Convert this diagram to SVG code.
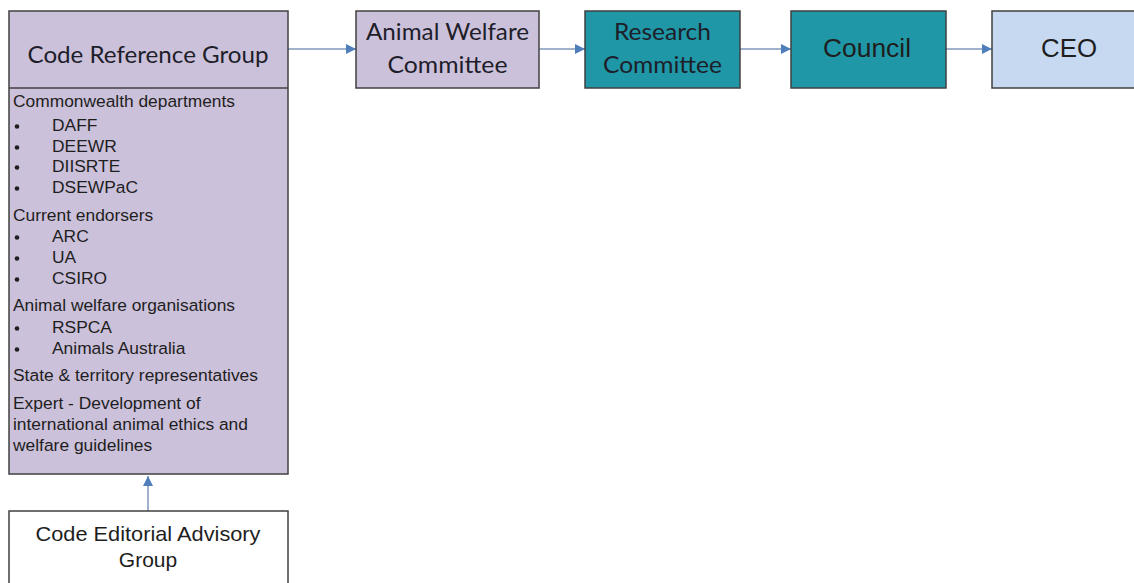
<svg xmlns="http://www.w3.org/2000/svg" width="1134" height="583" viewBox="0 0 1134 583">
<defs>
<style>
.box{stroke:#404040;stroke-width:1.5}
.lav{fill:#CCC1DA}
.teal{fill:#1F97A6}
.ceo{fill:#C6D9F1}
.white{fill:#FFFFFF}
.cal{font-family:Lato,"Open Sans",sans-serif;font-size:23px;fill:#1e1e2a;text-anchor:middle}
.ari{font-family:"Liberation Sans",Arial,sans-serif;fill:#1e1e1e}
.big{font-size:25px;text-anchor:middle}
.mid{font-size:21px;text-anchor:middle}
.lst{font-size:17.4px}
.bul{fill:#1e1e1e}
.conn{stroke:#8097BA;stroke-width:1.5;fill:none}
</style>
<marker id="ah" viewBox="0 0 10 10" refX="10" refY="5" markerWidth="11" markerHeight="10" markerUnits="userSpaceOnUse" orient="auto">
<path d="M0,0 L10,5 L0,10 Z" fill="#4F7EBB"/>
</marker>
</defs>
<rect width="1134" height="583" fill="#FFFFFF"/>
<g id="connectors">
<line class="conn" x1="288" y1="49" x2="356" y2="49" marker-end="url(#ah)"/>
<line class="conn" x1="539" y1="49" x2="585" y2="49" marker-end="url(#ah)"/>
<line class="conn" x1="740" y1="49" x2="791" y2="49" marker-end="url(#ah)"/>
<line class="conn" x1="946" y1="49" x2="992" y2="49" marker-end="url(#ah)"/>
<line class="conn" x1="148" y1="511" x2="148" y2="476" marker-end="url(#ah)"/>
</g>
<g id="code-reference-group">
<rect class="box lav" x="9" y="11" width="279" height="463"/>
<line class="box" x1="9" y1="88" x2="288" y2="88"/>
<text class="cal" x="148" y="63" font-size="24" textLength="241" lengthAdjust="spacingAndGlyphs">Code Reference Group</text>
<g class="bul">
<circle cx="17" cy="126.5" r="2.3"/>
<circle cx="17" cy="147.5" r="2.3"/>
<circle cx="17" cy="167.5" r="2.3"/>
<circle cx="17" cy="188.5" r="2.3"/>
<circle cx="17" cy="237.5" r="2.3"/>
<circle cx="17" cy="258.5" r="2.3"/>
<circle cx="17" cy="279.5" r="2.3"/>
<circle cx="17" cy="328.5" r="2.3"/>
<circle cx="17" cy="349.5" r="2.3"/>
</g>
<g class="ari lst">
<text x="13" y="107" textLength="222" lengthAdjust="spacingAndGlyphs">Commonwealth departments</text>
<text x="52" y="131">DAFF</text>
<text x="52" y="152">DEEWR</text>
<text x="52" y="172">DIISRTE</text>
<text x="52" y="193">DSEWPaC</text>
<text x="13" y="221">Current endorsers</text>
<text x="52" y="242">ARC</text>
<text x="52" y="263">UA</text>
<text x="52" y="284">CSIRO</text>
<text x="13" y="311" textLength="222" lengthAdjust="spacingAndGlyphs">Animal welfare organisations</text>
<text x="52" y="333">RSPCA</text>
<text x="52" y="354">Animals Australia</text>
<text x="13" y="381" textLength="245" lengthAdjust="spacingAndGlyphs">State &amp; territory representatives</text>
<text x="13" y="409">Expert - Development of</text>
<text x="13" y="430">international animal ethics and</text>
<text x="13" y="451">welfare guidelines</text>
</g>
</g>
<g id="animal-welfare-committee">
<rect class="box lav" x="356" y="11" width="183" height="77"/>
<text class="cal" x="447.5" y="40" textLength="163" lengthAdjust="spacingAndGlyphs">Animal Welfare</text>
<text class="cal" x="447.5" y="73" textLength="120" lengthAdjust="spacingAndGlyphs">Committee</text>
</g>
<g id="research-committee">
<rect class="box teal" x="585" y="11" width="155" height="77"/>
<text class="cal" x="662.5" y="40" textLength="97" lengthAdjust="spacingAndGlyphs">Research</text>
<text class="cal" x="662.5" y="73" textLength="119" lengthAdjust="spacingAndGlyphs">Committee</text>
</g>
<g id="council">
<rect class="box teal" x="791" y="11" width="155" height="77"/>
<text class="ari big" x="867" y="57" textLength="88" lengthAdjust="spacingAndGlyphs">Council</text>
</g>
<g id="ceo">
<rect class="box ceo" x="992" y="11" width="160" height="77"/>
<text class="ari big" x="1069" y="57" textLength="56" lengthAdjust="spacingAndGlyphs">CEO</text>
</g>
<g id="code-editorial-advisory-group">
<rect class="box white" x="9" y="511" width="279" height="90"/>
<text class="ari mid" x="148" y="541" textLength="225" lengthAdjust="spacingAndGlyphs">Code Editorial Advisory</text>
<text class="ari mid" x="148" y="567">Group</text>
</g>
</svg>
